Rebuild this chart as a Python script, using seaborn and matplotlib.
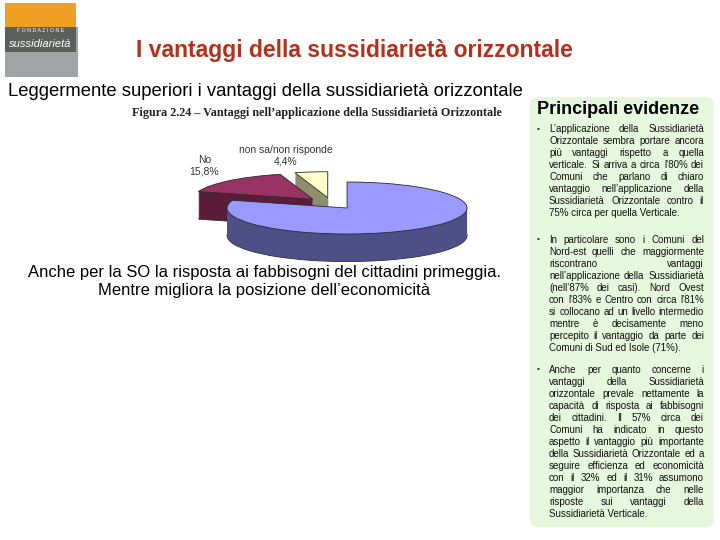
import matplotlib
matplotlib.use("Agg")
import matplotlib.pyplot as plt
from matplotlib.patches import Rectangle, FancyBboxPatch
import seaborn as sns

sns.set_theme(style="white")
plt.rcParams["font.family"] = ["Liberation Sans", "DejaVu Sans"]

# pie data
risposte = ["Sì", "No", "non sa/non risponde"]
quote = [79.8, 15.8, 4.4]
colori_top = ["#9999ff", "#993366", "#ffffcc"]
colori_lato = ["#4f4f88", "#5a1d38", "#8f8f6e"]

# texts
titolo = "I vantaggi della sussidiarietà orizzontale"
sottotitolo = "Leggermente superiori i vantaggi della sussidiarietà orizzontale"
didascalia = "Figura 2.24 – Vantaggi nell’applicazione della Sussidiarietà Orizzontale"
commento = ["Anche per la SO la risposta ai fabbisogni del cittadini primeggia.",
            "Mentre migliora la posizione dell’economicità"]
evidenze_1 = ["L’applicazione della Sussidiarietà",
              "Orizzontale sembra portare ancora",
              "più vantaggi rispetto a quella",
              "verticale. Si arriva a circa l’80% dei",
              "Comuni che parlano di chiaro",
              "vantaggio nell’applicazione della",
              "Sussidiarietà Orizzontale contro il",
              "75% circa per quella Verticale."]
evidenze_2 = ["In particolare sono i Comuni del",
              "Nord-est quelli che maggiormente",
              "riscontrano vantaggi",
              "nell’applicazione della Sussidiarietà",
              "(nell’87% dei casi). Nord Ovest",
              "con l’83% e Centro con circa l’81%",
              "si collocano ad un livello intermedio",
              "mentre è decisamente meno",
              "percepito il vantaggio da parte dei",
              "Comuni di Sud ed Isole (71%)."]
evidenze_3 = ["Anche per quanto concerne i",
              "vantaggi della Sussidiarietà",
              "orizzontale prevale nettamente la",
              "capacità di risposta ai fabbisogni",
              "dei cittadini. Il 57% circa dei",
              "Comuni ha indicato in questo",
              "aspetto il vantaggio più importante",
              "della Sussidiarietà Orizzontale ed a",
              "seguire efficienza ed economicità",
              "con il 32% ed il 31% assumono",
              "maggior importanza che nelle",
              "risposte sui vantaggi della",
              "Sussidiarietà Verticale."]

fig = plt.figure(figsize=(7.2, 5.4), dpi=100)
fig.patch.set_facecolor("white")

# 3D-looking exploded pie (squashed axes)
W, H = 720, 540
left, bottom, width, height = 139.4, 540 - 271, 384, 130
pax = fig.add_axes([left / W, bottom / H, width / W, height / H])
esplodi = [0.22] * len(quote)
profondita = 1.06
strati = 52
for k in range(strati, 0, -1):
    dy = -profondita * k / strati
    lw = 0.6 if k == strati else 0
    pax.pie(quote, explode=esplodi, colors=colori_lato, startangle=90,
            counterclock=False, center=(0, dy),
            wedgeprops=dict(linewidth=lw, edgecolor="#2a2a2a"))
pax.pie(quote, explode=esplodi, colors=colori_top, startangle=90,
        counterclock=False, center=(0, 0),
        wedgeprops=dict(linewidth=0.6, edgecolor="#2a2a2a"))
pax.set_aspect("auto")
pax.set_xlim(-1.6, 1.6)
pax.set_ylim(-2.6, 2.4)
pax.axis("off")
pax.text(-1.06, 1.44, f"{risposte[1]}\n{quote[1]:.1f}%".replace(".", ","),
         ha="center", va="center", fontsize=7.5, color="#333333", linespacing=1.2)
pax.text(-0.38, 1.82, f"{risposte[2]}\n{quote[2]:.1f}%".replace(".", ","),
         ha="center", va="center", fontsize=7.5, color="#333333", linespacing=1.2)

# overlay in pixel coordinates
ax = fig.add_axes([0, 0, 1, 1])
ax.set_xlim(0, W)
ax.set_ylim(H, 0)
ax.axis("off")
ax.patch.set_alpha(0)

# logo
ax.add_patch(Rectangle((5, 3), 71, 49, color="#efa024", lw=0))
ax.add_patch(Rectangle((5, 27), 73, 50, color="#a0a4a6", lw=0))
ax.add_patch(Rectangle((5, 27), 71, 25, color="#5c605a", lw=0))
ax.text(41, 31, "F O N D A Z I O N E", ha="center", va="center", fontsize=3.8,
        color="white")
ax.text(40, 44, "sussidiarietà", ha="center", va="center", fontsize=8,
        style="italic", color="white")

ax.text(354, 50, titolo, ha="center", va="center", fontsize=16.5,
        fontweight="bold", color="#b3301d")
ax.text(8, 91, sottotitolo, ha="left", va="center", fontsize=13.3, color="black")
ax.text(317, 113, didascalia, ha="center", va="center", fontsize=8.7,
        fontweight="bold", family="Liberation Serif", color="#222222")
for i, riga in enumerate(commento):
    ax.text(264, 272 + 19 * i, riga, ha="center", va="center", fontsize=12,
            color="black")

# right panel
ax.add_patch(FancyBboxPatch((533, 100), 178, 424, boxstyle="round,pad=3,rounding_size=8",
                            facecolor="#e5f7dc", edgecolor="none"))
ax.text(537, 109, "Principali evidenze", ha="left", va="center", fontsize=13,
        fontweight="bold", color="black")

renderer = fig.canvas.get_renderer()


def giustifica(righe, x0, x1, y0, passo, fs):
    ax.text(537, y0, "•", ha="left", va="center", fontsize=fs - 1, color="#222222")
    for i, riga in enumerate(righe):
        y = y0 + i * passo
        parole = riga.split()
        if i == len(righe) - 1 or len(parole) == 1:
            ax.text(x0, y, riga, ha="left", va="center", fontsize=fs, color="#111111")
            continue
        testi = [ax.text(x0, y, p, ha="left", va="center", fontsize=fs,
                         color="#111111") for p in parole]
        larg = [t.get_window_extent(renderer).width for t in testi]
        spazio = (x1 - x0 - sum(larg)) / (len(parole) - 1)
        x = x0
        for t, w in zip(testi, larg):
            t.set_x(x)
            x += w + spazio


giustifica(evidenze_1, 549, 704, 129, 12, 7.0)
giustifica(evidenze_2, 549, 704, 240, 12, 7.0)
giustifica(evidenze_3, 549, 704, 370, 12, 7.0)

fig.savefig("out.png", dpi=100)
